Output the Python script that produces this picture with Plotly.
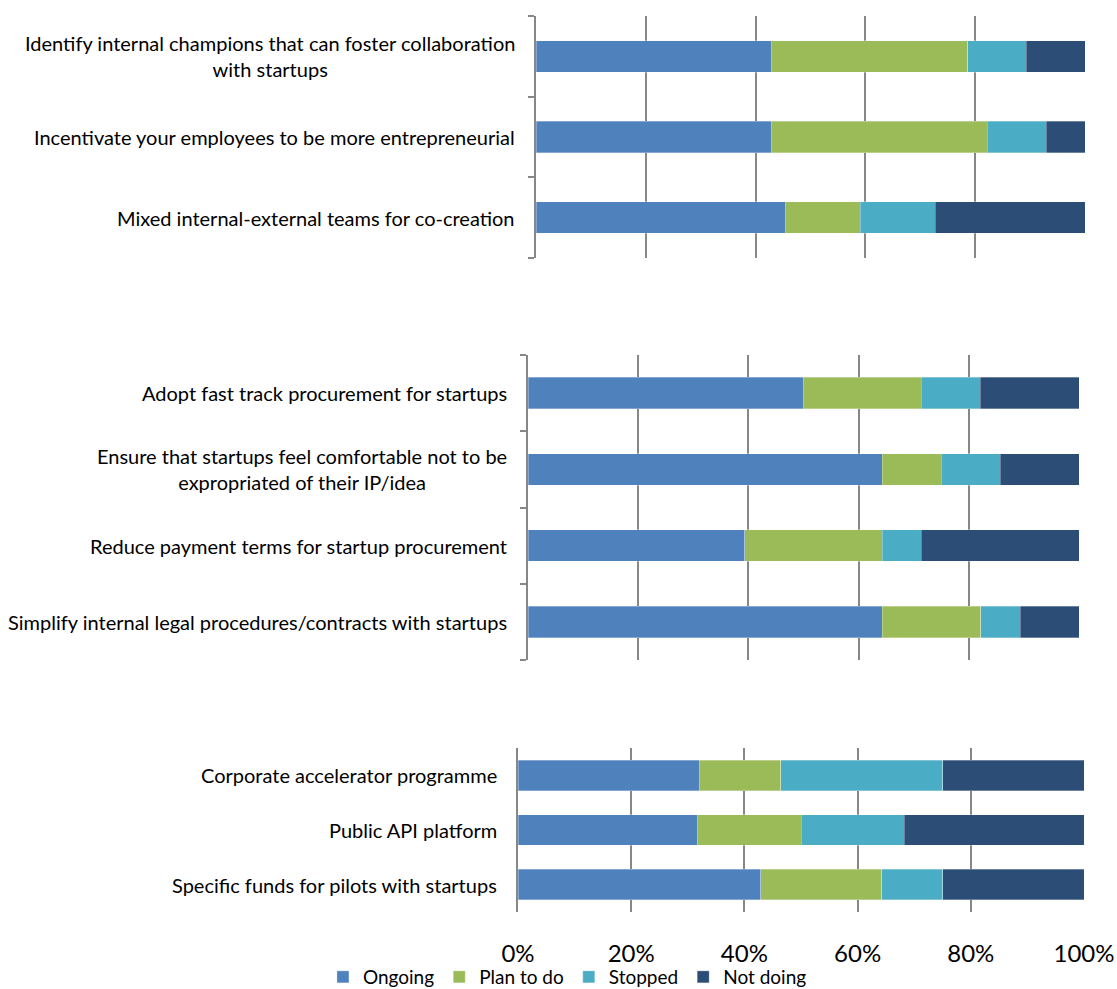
import plotly.graph_objects as go

series = ["Ongoing", "Plan to do", "Stopped", "Not doing"]
colors = ["#4F81BD", "#9BBB59", "#4BACC6", "#2C4D75"]

cats1 = ["Identify internal champions that can foster collaboration<br>with startups",
         "Incentivate your employees to be more entrepreneurial",
         "Mixed internal-external teams for co-creation"]
ongoing1 = [42.9, 42.9, 45.5]
plan1 = [35.7, 39.3, 13.6]
stopped1 = [10.7, 10.7, 13.6]
notdoing1 = [10.7, 7.1, 27.3]

cats2 = ["Adopt fast track procurement for startups",
         "Ensure that startups feel comfortable not to be<br>expropriated of their IP/idea",
         "Reduce payment terms for startup procurement",
         "Simplify internal legal procedures/contracts with startups"]
ongoing2 = [50.0, 64.3, 39.3, 64.3]
plan2 = [21.4, 10.7, 25.0, 17.9]
stopped2 = [10.7, 10.7, 7.1, 7.1]
notdoing2 = [17.9, 14.3, 28.6, 10.7]

cats3 = ["Corporate accelerator programme",
         "Public API platform",
         "Specific funds for pilots with startups"]
ongoing3 = [32.1, 31.8, 42.9]
plan3 = [14.3, 18.2, 21.4]
stopped3 = [28.6, 18.2, 10.7]
notdoing3 = [25.0, 31.8, 25.0]

xticks = [0, 20, 40, 60, 80, 100]
xticklabels = ["0%", "20%", "40%", "60%", "80%", "100%"]

W, H = 1117, 989
FONT = "Lato"
GRID = "#878787"

panels = [
    dict(cats=cats1, vals=[ongoing1, plan1, stopped1, notdoing1], xpx=(536, 1085), ypx=(16, 258), bw=0.39, ticks=True, labels=False, axis="1"),
    dict(cats=cats2, vals=[ongoing2, plan2, stopped2, notdoing2], xpx=(528, 1079), ypx=(355, 660), bw=0.41, ticks=True, labels=False, axis="2"),
    dict(cats=cats3, vals=[ongoing3, plan3, stopped3, notdoing3], xpx=(518, 1084), ypx=(748, 912), bw=0.56, ticks=False, labels=True, axis="3"),
]

fig = go.Figure()
annotations = []
layout = {}
for pi, p in enumerate(panels):
    xa = "x" if p["axis"] == "1" else "x" + p["axis"]
    ya = "y" if p["axis"] == "1" else "y" + p["axis"]
    for si, s in enumerate(series):
        fig.add_trace(go.Bar(
            y=p["cats"], x=p["vals"][si], orientation="h", name=s,
            marker=dict(color=colors[si], line=dict(color="rgba(255,255,255,0.5)", width=0.6)),
            width=p["bw"], xaxis=xa, yaxis=ya, legendgroup=s,
            showlegend=(pi == 2), hoverinfo="x+y",
        ))
    x0, x1 = p["xpx"][0] / W, p["xpx"][1] / W
    y0, y1 = 1 - p["ypx"][1] / H, 1 - p["ypx"][0] / H
    xkey = "xaxis" if p["axis"] == "1" else "xaxis" + p["axis"]
    ykey = "yaxis" if p["axis"] == "1" else "yaxis" + p["axis"]
    layout[xkey] = dict(
        domain=[x0, x1], anchor=ya, range=[0, 100], tickvals=xticks, ticktext=xticklabels,
        showgrid=True, gridcolor=GRID, gridwidth=2, zeroline=False,
        showline=False, showticklabels=p["labels"], ticks="",
        tickfont=dict(family=FONT, size=24, color="#000000"),
        ticklabelstandoff=25, fixedrange=True, automargin=False,
    )
    layout[ykey] = dict(
        domain=[y0, y1], anchor=xa, categoryorder="array",
        categoryarray=list(reversed(p["cats"])), range=[-0.5, len(p["cats"]) - 0.5],
        showgrid=False, showticklabels=False, showline=True, linecolor=GRID, linewidth=2,
        ticks="outside" if p["ticks"] else "", tickson="boundaries", ticklen=6,
        tickcolor=GRID, tickwidth=2, zeroline=False, fixedrange=True, automargin=False,
    )
    for c in p["cats"]:
        annotations.append(dict(
            x=x0, xref="paper", y=c, yref=ya, text=c, showarrow=False,
            xanchor="right", yanchor="middle", align="center", xshift=-19,
            font=dict(family=FONT, size=20, color="#000000"),
        ))

fig.update_layout(**layout)
fig.update_layout(
    barmode="stack", width=W, height=H, margin=dict(l=0, r=0, t=0, b=0, autoexpand=False),
    paper_bgcolor="white", plot_bgcolor="white", annotations=annotations,
    legend=dict(orientation="h", x=0.508, xanchor="center", xref="container",
                y=1 - 977 / H, yanchor="middle", yref="container",
                bgcolor="rgba(0,0,0,0)",
                font=dict(family=FONT, size=19, color="#000000"), traceorder="normal",
                itemwidth=30, tracegroupgap=0),
    showlegend=True,
)
fig.write_html("out.html")
